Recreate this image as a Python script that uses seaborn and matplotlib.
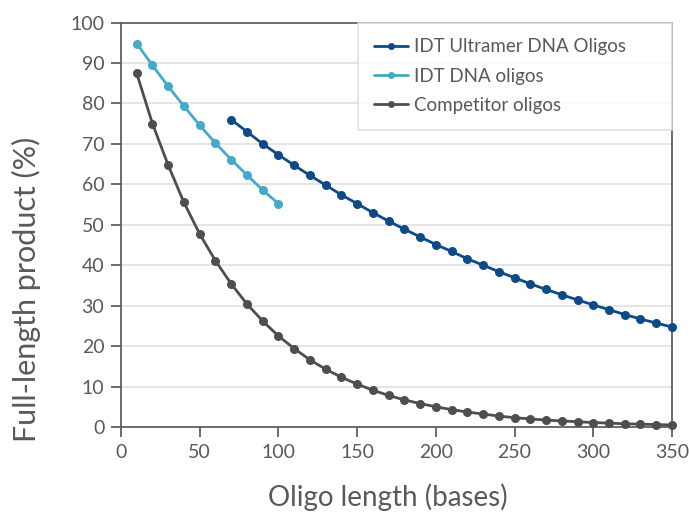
import matplotlib
matplotlib.use("Agg")
import matplotlib.pyplot as plt
import seaborn as sns
import pandas as pd

# Data
ultramer_len = list(range(70, 351, 10))
ultramer_val = [76.0, 73.0, 70.0, 67.3, 64.7, 62.2, 59.8, 57.4, 55.2, 53.0,
                50.9, 48.9, 47.0, 45.1, 43.4, 41.6, 40.0, 38.4, 36.9, 35.4,
                34.0, 32.7, 31.4, 30.2, 29.0, 27.8, 26.7, 25.7, 24.7]
idt_len = list(range(10, 101, 10))
idt_val = [94.8, 89.4, 84.2, 79.3, 74.6, 70.2, 66.1, 62.3, 58.6, 55.2]
comp_len = list(range(10, 351, 10))
comp_val = [87.4, 75.0, 64.7, 55.5, 47.7, 41.1, 35.4, 30.4, 26.2, 22.5,
            19.4, 16.6, 14.3, 12.3, 10.6, 9.1, 7.8, 6.7, 5.8, 5.0,
            4.3, 3.7, 3.2, 2.7, 2.3, 2.0, 1.7, 1.5, 1.3, 1.1,
            0.95, 0.8, 0.7, 0.6, 0.5]
series_names = ["IDT Ultramer DNA Oligos", "IDT DNA oligos", "Competitor oligos"]
colors = ["#0d4a86", "#45aac8", "#4d4e52"]
x_ticks = [0, 50, 100, 150, 200, 250, 300, 350]
y_ticks = [0, 10, 20, 30, 40, 50, 60, 70, 80, 90, 100]

df = pd.concat([
    pd.DataFrame({"x": ultramer_len, "y": ultramer_val, "s": series_names[0]}),
    pd.DataFrame({"x": idt_len, "y": idt_val, "s": series_names[1]}),
    pd.DataFrame({"x": comp_len, "y": comp_val, "s": series_names[2]}),
])

sns.set_theme(style="white")
plt.rcParams["font.family"] = ["Lato", "DejaVu Sans"]

fig = plt.figure(figsize=(6.89, 5.15), dpi=100)
ax = fig.add_axes([0.1756, 0.1709, 0.7997, 0.7854])

for y in y_ticks[1:-1]:
    ax.axhline(y, color="#e3e3e3", lw=1.3, zorder=0)

sns.lineplot(data=df, x="x", y="y", hue="s", palette=dict(zip(series_names, colors)),
             marker="o", markersize=6.5, markeredgewidth=0, linewidth=2.0,
             ax=ax, legend=True, zorder=3)

for ln in ax.lines:
    ln.set_clip_on(False)

ax.set_xlim(0, 350)
ax.set_ylim(0, 100)
ax.set_xticks(x_ticks)
ax.set_yticks(y_ticks)
spine_c = "#5f6062"
for sp in ax.spines.values():
    sp.set_color(spine_c)
    sp.set_linewidth(1.3)
ax.tick_params(axis="both", direction="out", length=7, width=1.3, color=spine_c,
               labelcolor="#58595b", labelsize=14, pad=5, bottom=True, left=True)
ax.set_xlabel("Oligo length (bases)", fontsize=20, color="#58595b")
ax.set_ylabel("Full-length product (%)", fontsize=22, color="#58595b")
ax.xaxis.set_label_coords(0.485, -0.173)
ax.xaxis.label.set_va("center")
ax.yaxis.set_label_coords(-0.172, 0.34)
ax.yaxis.label.set_va("center")

leg = ax.legend(loc="upper left", bbox_to_anchor=(0.430, 0.0, 0.570, 1.0),
                mode="expand", frameon=True, fontsize=13.5, borderaxespad=0,
                handlelength=1.8, handletextpad=0.35, borderpad=0.85,
                labelspacing=0.65, fancybox=False, title=None)
leg.get_frame().set_edgecolor("#dcdcdc")
leg.get_frame().set_linewidth(1.3)
for t in leg.get_texts():
    t.set_color("#58595b")
for h in leg.legend_handles:
    h.set_markersize(5)
    h.set_linewidth(2.0)

fig.savefig("out.png", dpi=100)
